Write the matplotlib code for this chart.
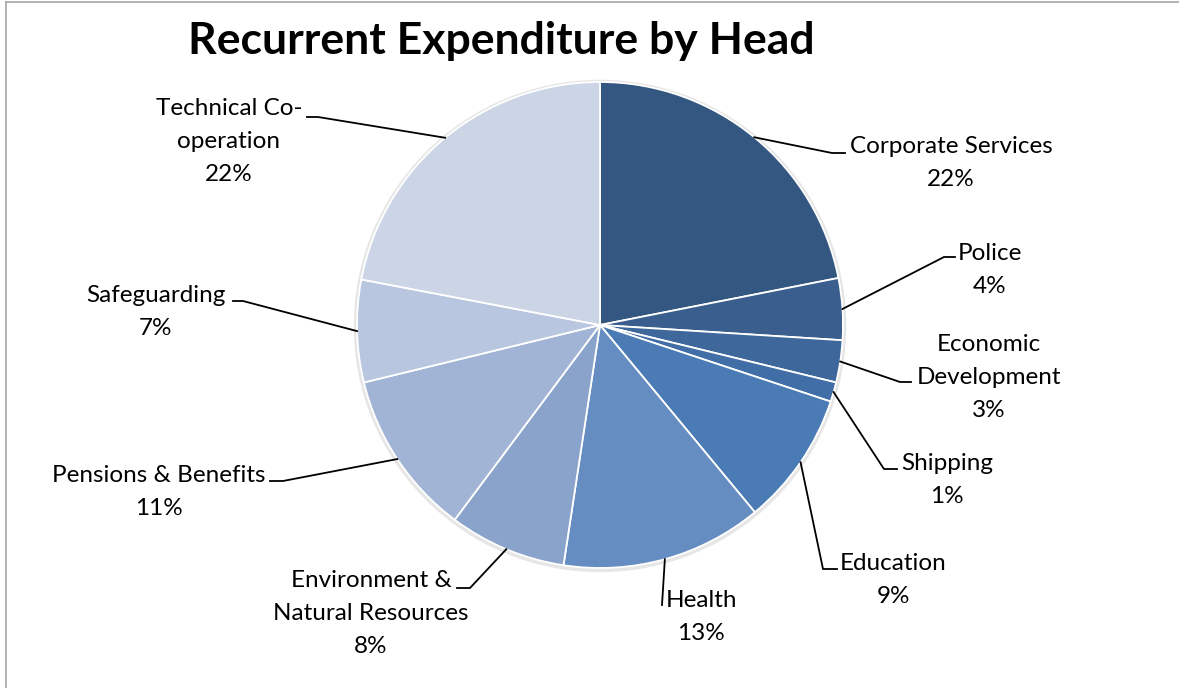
import numpy as np
import matplotlib.pyplot as plt

heads = ["Corporate Services", "Police", "Economic\nDevelopment", "Shipping", "Education",
         "Health", "Environment &\nNatural Resources", "Pensions & Benefits", "Safeguarding",
         "Technical Co-\noperation"]
shares = [21.9, 4.1, 2.8, 1.3, 8.9, 13.4, 7.8, 11.0, 6.8, 22.0]
colours = ["#335780", "#3a5f8e", "#3e679b", "#416ea7", "#4a7bb5", "#668dc2",
           "#89a3cb", "#a2b4d5", "#b9c6df", "#cbd5e6"]

W, H = 1179, 688
plt.rcParams["font.family"] = ["Lato", "DejaVu Sans"]

# label layout in pixels from top-left: text centre x / first baseline, elbow, end of leader
label_xy = [(951, 153), (990, 260), (989, 351), (947, 470), (893, 570),
            (701, 607), (371, 587), (159, 482), (156, 302), (229, 115)]
elbow_xy = [(832, 153), (944, 257), (900, 382), (884, 469), (823, 569),
            (662, 605), (470, 588), (283, 481), (243, 301), (318, 117)]
end_x = [845, 955, 911, 897, 837, 662, 457, 270, 233, 307]
line_gap = 33

fig = plt.figure(figsize=(W / 100, H / 100), dpi=100)
ax = fig.add_axes([0, 0, 1, 1])

cx, cy, r = 600, H - 325, 243
# faint shadow round the pie
ax.add_patch(plt.Circle((cx, cy - 1), r + 2.5, color="#e6e6e6", zorder=0))
wedges, _ = ax.pie(shares, colors=colours, startangle=90, counterclock=False,
                   center=(cx, cy), radius=r,
                   wedgeprops=dict(edgecolor="white", linewidth=1.3))
ax.set_xlim(0, W)
ax.set_ylim(0, H)
ax.set_aspect("equal")
ax.axis("off")

for w, name, v, (tx, ty), (ex, ey), e2 in zip(wedges, heads, shares, label_xy, elbow_xy, end_x):
    ang = np.deg2rad((w.theta1 + w.theta2) / 2)
    sx, sy = cx + r * np.cos(ang), cy + r * np.sin(ang)
    ax.plot([sx, ex, e2], [sy, H - ey, H - ey], color="black", lw=1.3, zorder=3)
    lines = name.split("\n") + [f"{round(v):.0f}%"]
    for k, line in enumerate(lines):
        ax.text(tx, H - ty - k * line_gap, line, ha="center", va="baseline",
                fontsize=17.5, color="black")

ax.text(501, H - 54, "Recurrent Expenditure by Head", ha="center", va="baseline",
        fontsize=32, fontweight="bold")

# chart border (top and left visible)
ax.plot([5.5, 5.5], [0, H - 1.5], color="#a6a6a6", lw=1.2, clip_on=False)
ax.plot([5.5, W], [H - 1.5, H - 1.5], color="#a6a6a6", lw=1.2, clip_on=False)

fig.savefig("out.png", dpi=100)
